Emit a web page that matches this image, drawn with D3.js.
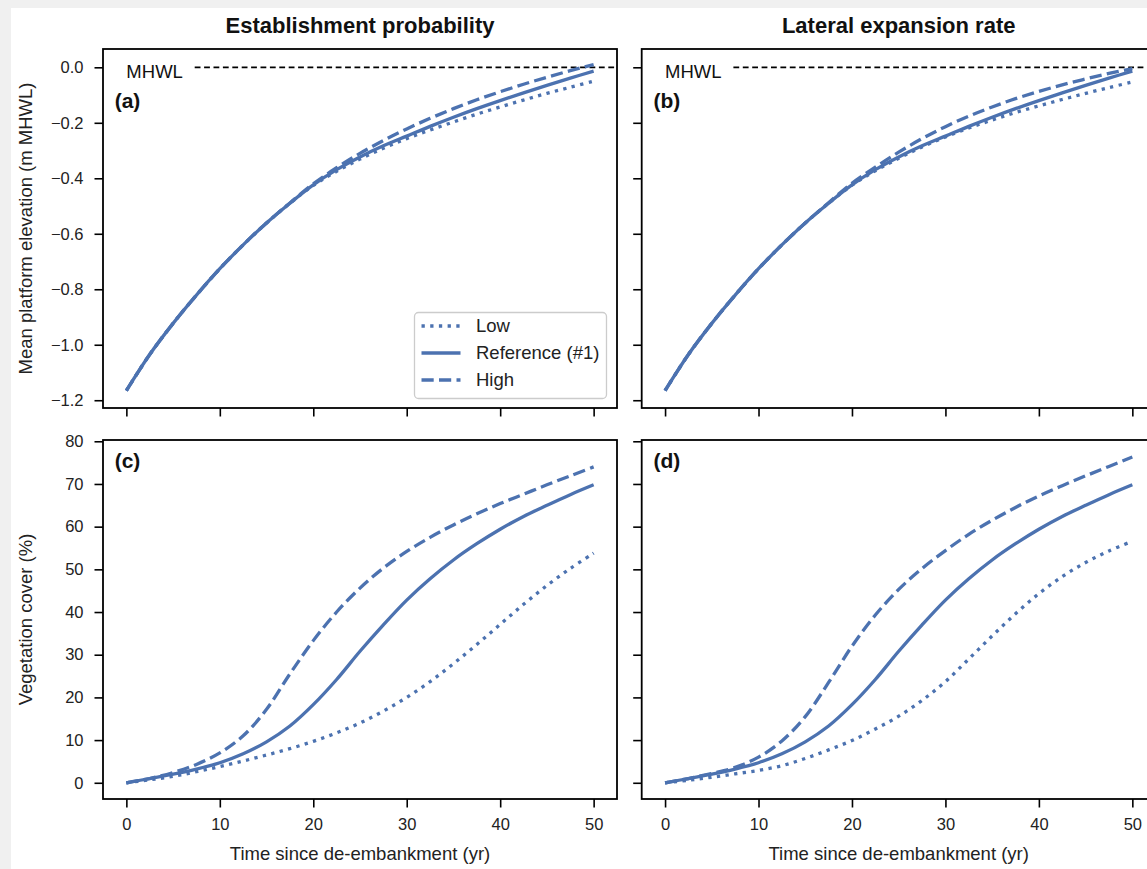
<!DOCTYPE html>
<html>
<head>
<meta charset="utf-8">
<script src="https://cdn.jsdelivr.net/npm/d3@7"></script>
<style>
  body { margin: 0; background: #f0f0f0; }
  svg { display: block; font-family: "Liberation Sans", Arial, sans-serif; }
</style>
</head>
<body>
<svg id="chart"></svg>
<script>
// time axis (years since de-embankment)
const years = [0, 2.5, 5, 7.5, 10, 12.5, 15, 17.5, 20, 22.5, 25, 27.5, 30, 32.5, 35, 37.5, 40, 42.5, 45, 47.5, 50];

// mean platform elevation (m MHWL)
const elevRef = [-1.165, -1.035, -0.923, -0.821, -0.726, -0.64, -0.561, -0.49, -0.424, -0.369, -0.323, -0.283, -0.248, -0.213, -0.18, -0.149, -0.12, -0.092, -0.065, -0.039, -0.014];
const elevEstLow = [-1.165, -1.035, -0.923, -0.821, -0.726, -0.64, -0.561, -0.49, -0.426, -0.375, -0.331, -0.292, -0.257, -0.226, -0.197, -0.169, -0.143, -0.118, -0.094, -0.072, -0.05];
const elevEstHigh = [-1.165, -1.035, -0.923, -0.821, -0.726, -0.64, -0.561, -0.489, -0.42, -0.362, -0.31, -0.264, -0.222, -0.184, -0.149, -0.117, -0.088, -0.061, -0.036, -0.012, 0.01];
const elevLatLow = [-1.165, -1.035, -0.923, -0.821, -0.726, -0.64, -0.561, -0.49, -0.425, -0.373, -0.328, -0.287, -0.251, -0.219, -0.19, -0.163, -0.139, -0.116, -0.094, -0.073, -0.053];
const elevLatHigh = [-1.165, -1.035, -0.923, -0.821, -0.726, -0.64, -0.561, -0.488, -0.418, -0.36, -0.306, -0.257, -0.214, -0.176, -0.143, -0.113, -0.087, -0.063, -0.042, -0.022, -0.005];

// vegetation cover (%)
const vegRef = [0, 1.0, 2.0, 3.2, 4.7, 6.8, 9.6, 13.3, 18.3, 24.2, 30.8, 37, 42.8, 47.8, 52.2, 56, 59.4, 62.4, 65, 67.5, 69.8];
const vegEstLow = [0, 0.7, 1.5, 2.6, 3.8, 5.1, 6.5, 8.0, 9.7, 11.7, 14, 16.8, 20.0, 23.7, 27.9, 32.4, 37.1, 41.8, 46.2, 50.2, 53.8];
const vegEstHigh = [0, 1.0, 2.4, 4.3, 7.0, 11.0, 17.2, 25.5, 33.3, 40, 45.6, 50.3, 54.2, 57.5, 60.4, 63, 65.4, 67.6, 69.8, 71.9, 74];
const vegLatLow = [0, 0.6, 1.3, 2.1, 2.9, 4.0, 5.7, 7.7, 9.9, 12.6, 15.6, 19.3, 23.7, 29, 34.4, 39.6, 44.3, 48.3, 51.6, 54.3, 56.6];
const vegLatHigh = [0, 1.0, 2.2, 3.6, 6.0, 9.8, 15.5, 23.5, 32, 39.3, 45.3, 50.2, 54.4, 58.2, 61.5, 64.5, 67.2, 69.6, 71.9, 74.1, 76.3];

const columnTitles = ["Establishment probability", "Lateral expansion rate"];
const panelLetters = ["(a)", "(b)", "(c)", "(d)"];
const legendLabels = ["Low", "Reference (#1)", "High"];
const xTicks = [0, 10, 20, 30, 40, 50];
const elevTicks = [0, -0.2, -0.4, -0.6, -0.8, -1.0, -1.2];
const vegTicks = [0, 10, 20, 30, 40, 50, 60, 70, 80];

const width = 1147, height = 869;
const blue = "#4c72b0";
const lw = 3.3;
const dashes = ["3.3,5.4", null, "12.2,5.3"]; // low, reference, high

const svg = d3.select("#chart").attr("width", width).attr("height", height);
svg.append("rect").attr("width", width).attr("height", height).attr("fill", "#f0f0f0");
svg.append("rect").attr("x", 11).attr("y", 8).attr("width", width - 11).attr("height", height - 8).attr("fill", "#fff");

const colX = [103, 641.7];
const rowY = [49, 440];
const pw = 514, ph = 359;

const elevSeries = [
  [elevEstLow, elevRef, elevEstHigh],
  [elevLatLow, elevRef, elevLatHigh],
];
const vegSeries = [
  [vegEstLow, vegRef, vegEstHigh],
  [vegLatLow, vegRef, vegLatHigh],
];

function drawPanel(col, row) {
  const left = colX[col], top = rowY[row];
  const x = d3.scaleLinear().domain([-2.5, 52.5]).range([left, left + pw]);
  const y = row === 0
    ? d3.scaleLinear().domain([-1.228, 0.066]).range([top + ph, top])
    : d3.scaleLinear().domain([-3.8, 80.3]).range([top + ph, top]);
  const g = svg.append("g");

  // MHWL reference line
  if (row === 0) {
    g.append("line")
      .attr("x1", 194.7 - colX[0] + left).attr("x2", left + pw)
      .attr("y1", y(0)).attr("y2", y(0))
      .attr("stroke", "#000").attr("stroke-width", 1.7)
      .attr("stroke-dasharray", "5.8,3.6");
    g.append("text")
      .attr("x", x(0)).attr("y", y(0) + 10.5)
      .attr("font-size", 18.5).attr("fill", "#111")
      .text("MHWL");
  }

  const series = row === 0 ? elevSeries[col] : vegSeries[col];
  const line = d3.line()
    .x((d, i) => x(years[i]))
    .y((d) => y(d))
    .curve(d3.curveCatmullRom.alpha(0.5));
  series.forEach((vals, k) => {
    g.append("path")
      .datum(vals)
      .attr("d", line)
      .attr("fill", "none")
      .attr("stroke", blue)
      .attr("stroke-width", lw)
      .attr("stroke-dasharray", dashes[k]);
  });

  // axes
  const xAxis = d3.axisBottom(x).tickValues(xTicks).tickSize(8.5).tickPadding(11)
    .tickFormat(row === 1 ? d3.format("d") : () => "");
  const yAxis = d3.axisLeft(y)
    .tickValues(row === 0 ? elevTicks : vegTicks)
    .tickSize(8.5).tickPadding(11)
    .tickFormat(col === 0 ? (row === 0 ? d3.format(".1f") : d3.format("d")) : () => "");
  [
    g.append("g").attr("transform", `translate(0,${top + ph})`).call(xAxis),
    g.append("g").attr("transform", `translate(${left},0)`).call(yAxis),
  ].forEach((a) => {
    a.select(".domain").remove();
    a.selectAll(".tick line").attr("stroke", "#000").attr("stroke-width", 1.6);
    a.selectAll(".tick text").attr("font-size", 16.5).attr("fill", "#222")
      .attr("font-family", "Liberation Sans, Arial, sans-serif");
  });

  g.append("rect")
    .attr("x", left).attr("y", top).attr("width", pw).attr("height", ph)
    .attr("fill", "none").attr("stroke", "#000").attr("stroke-width", 1.8);

  g.append("text")
    .attr("x", left + 11.7).attr("y", top + (row === 0 ? 59 : 27.5))
    .attr("font-size", 21).attr("font-weight", "bold").attr("fill", "#111")
    .text(panelLetters[row * 2 + col]);

  if (row === 0) {
    svg.append("text")
      .attr("x", left + pw / 2).attr("y", 33)
      .attr("text-anchor", "middle").attr("font-size", 22).attr("font-weight", "bold")
      .attr("fill", "#111").text(columnTitles[col]);
  } else {
    svg.append("text")
      .attr("x", left + pw / 2).attr("y", 860)
      .attr("text-anchor", "middle").attr("font-size", 18.5).attr("fill", "#222")
      .text("Time since de-embankment (yr)");
  }

  if (col === 0) {
    svg.append("text")
      .attr("transform", `translate(31.5,${top + ph / 2}) rotate(-90)`)
      .attr("text-anchor", "middle").attr("font-size", 18.5).attr("fill", "#222")
      .text(row === 0 ? "Mean platform elevation (m MHWL)" : "Vegetation cover (%)");
  }

  // legend in panel (a)
  if (row === 0 && col === 0) {
    const lg = g.append("g");
    lg.append("rect")
      .attr("x", 414.5).attr("y", 312.5).attr("width", 192).attr("height", 86).attr("rx", 4)
      .attr("fill", "#fff").attr("fill-opacity", 0.8)
      .attr("stroke", "#cccccc").attr("stroke-width", 1.3);
    legendLabels.forEach((lab, k) => {
      const ly = 326 + k * 27;
      lg.append("line")
        .attr("x1", 421.5).attr("x2", 460.5).attr("y1", ly).attr("y2", ly)
        .attr("stroke", blue).attr("stroke-width", lw)
        .attr("stroke-dasharray", dashes[k]);
      lg.append("text")
        .attr("x", 476).attr("y", ly).attr("dy", "0.35em")
        .attr("font-size", 18.5).attr("fill", "#222").text(lab);
    });
  }
}

[0, 1].forEach((row) => [0, 1].forEach((col) => drawPanel(col, row)));
</script>
</body>
</html>
